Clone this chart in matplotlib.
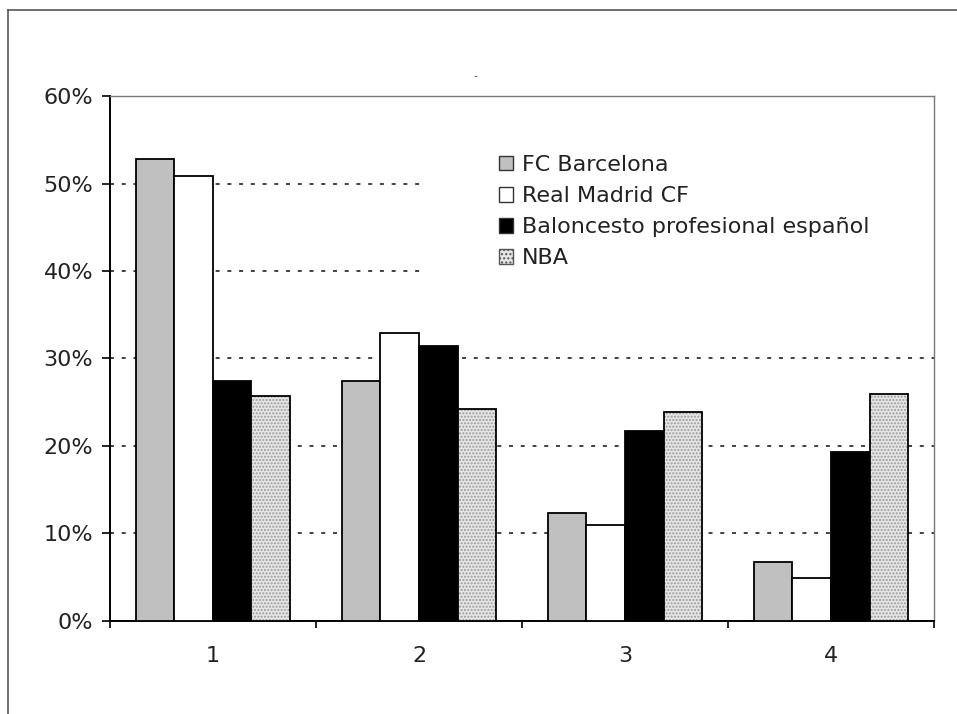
import numpy as np
import matplotlib.pyplot as plt
from matplotlib.patches import Patch, Rectangle
from matplotlib.lines import Line2D

plt.rcParams['font.family'] = ['DejaVu Sans']

categorias = ['1', '2', '3', '4']
series = ['FC Barcelona', 'Real Madrid CF', 'Baloncesto profesional español', 'NBA']
barcelona = [52.8, 27.4, 12.3, 6.7]
madrid = [50.9, 32.9, 11.0, 4.9]
baloncesto = [27.4, 31.4, 21.7, 19.3]
nba = [25.7, 24.2, 23.9, 25.9]

fig = plt.figure(figsize=(9.57, 7.14), dpi=100)
ax = fig.add_axes([0.1149, 0.1303, 0.976 - 0.1149, 0.8655 - 0.1303])

x = np.arange(len(categorias)) + 1
w = 0.187
offs = np.array([-1.5, -0.5, 0.5, 1.5]) * w

ax.bar(x + offs[0], barcelona, w, color='#c0c0c0', edgecolor='black', linewidth=1.3, zorder=3)
ax.bar(x + offs[1], madrid, w, color='white', edgecolor='black', linewidth=1.3, zorder=3)
ax.bar(x + offs[2], baloncesto, w, color='black', edgecolor='black', linewidth=1.3, zorder=3)
# NBA: relleno punteado
ax.bar(x + offs[3], nba, w, color='#e6e6e6', edgecolor='#9a9a9a', hatch='.....', linewidth=0, zorder=3)
ax.bar(x + offs[3], nba, w, fill=False, edgecolor='black', linewidth=1.3, zorder=4)

ax.set_xlim(0.5, 4.5)
ax.set_ylim(0, 60)

# lineas de division punteadas
ax.yaxis.grid(True, linestyle=(0, (2.2, 4.3)), color='#333333', linewidth=1.3, zorder=0)
ax.set_axisbelow(True)

# fondo blanco de la leyenda tapa las lineas
ax.add_patch(Rectangle((0.382, 0.611), 0.618, 0.286, transform=ax.transAxes,
                       facecolor='white', edgecolor='none', zorder=1))

ax.set_yticks(np.arange(0, 61, 10))
ax.set_yticklabels([f'{v}%' for v in range(0, 61, 10)])
ax.set_xticks([0.5, 1.5, 2.5, 3.5, 4.5])
ax.set_xticklabels([])
ax.set_xticks(x, minor=True)
ax.set_xticklabels(categorias, minor=True)
ax.tick_params(axis='x', which='major', direction='out', length=5, width=1.2)
ax.tick_params(axis='x', which='minor', length=0, pad=18, labelsize=16, labelcolor='#222222')
ax.tick_params(axis='y', direction='out', length=6, width=1.2, pad=6, labelsize=16, labelcolor='#222222')

for s in ['left', 'bottom']:
    ax.spines[s].set_linewidth(1.4)
    ax.spines[s].set_color('black')
for s in ['top', 'right']:
    ax.spines[s].set_linewidth(1.0)
    ax.spines[s].set_color('#777777')

handles = [Patch(facecolor='#c0c0c0', edgecolor='#333333', linewidth=1.0),
           Patch(facecolor='white', edgecolor='#333333', linewidth=1.0),
           Patch(facecolor='black', edgecolor='#333333', linewidth=1.0),
           Patch(facecolor='#e6e6e6', edgecolor='#555555', hatch='....', linewidth=1.0)]
leg = ax.legend(handles, series, loc='upper left', bbox_to_anchor=(0.461, 0.905),
                frameon=False, fontsize=16, handlelength=0.65, handleheight=0.65,
                handletextpad=0.4, labelspacing=0.5, borderaxespad=0)
for t in leg.get_texts():
    t.set_color('#222222')

# marco exterior de la imagen
fig.add_artist(Line2D([0.008, 0.008], [0, 0.986], transform=fig.transFigure, color='#555555', linewidth=1.2))
fig.add_artist(Line2D([0.008, 1.0], [0.986, 0.986], transform=fig.transFigure, color='#555555', linewidth=1.2))
fig.text(0.497, 0.894, '-', fontsize=8, ha='center', va='center', color='#555555')

fig.savefig('out.png', dpi=100)
